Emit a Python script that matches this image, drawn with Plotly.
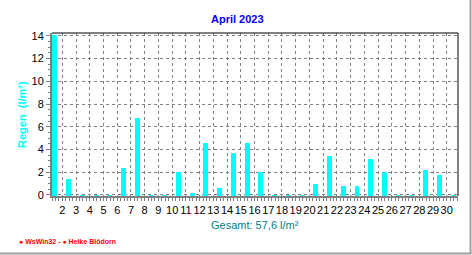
import plotly.graph_objects as go

# ---- data ----
days = list(range(1, 31))
rain = [14.1, 1.4, 0.0, 0.0, 0.0, 2.4, 6.8, 0.0, 0.0, 2.0,
        0.2, 4.6, 0.6, 3.7, 4.6, 2.0, 0.0, 0.0, 0.0, 1.0,
        3.4, 0.8, 0.8, 3.2, 2.0, 0.0, 0.0, 2.2, 1.8, 0.0]
x_tick_vals = list(range(2, 31))
x_tick_text = [str(d) for d in x_tick_vals]
y_tick_vals = list(range(0, 15, 2))
title_text = "<b>April 2023</b>"
y_title = "<b>Regen  (l/m²)</b>"
total_text = "Gesamt: 57,6 l/m²"
footer_text = "<b>● WsWin32 - ● Heike Blödorn</b>"

# ---- layout geometry ----
W, H = 472, 255
L, R, T, B = 52, 14, 33, 59
PW, PH = W - L - R, H - T - B
FONT = "Liberation Sans, Arial, sans-serif"


def px(x, y):
    return (x - L) / PW, (H - B - y) / PH


Y_MIN = -0.09
fig = go.Figure()
fig.add_trace(go.Bar(
    x=[d + 0.5 for d in days],
    y=rain,
    base=Y_MIN,
    width=0.29,
    marker=dict(color="#00FFFF", line=dict(color="#00FFFF", width=1)),
    hoverinfo="skip",
))

grid = dict(showgrid=True, gridcolor="#808080", gridwidth=1, griddash="3px,3px")
clear = "rgba(0,0,0,0)"

fig.update_xaxes(
    range=[1.25, 30.82], tickmode="array", tickvals=x_tick_vals, ticktext=x_tick_text,
    tickangle=0,
    ticks="outside", ticklen=3, tickcolor="#808080", tickwidth=1,
    minor=dict(dtick=0.25, tick0=2, ticks="outside", ticklen=3, tickcolor="#808080",
               showgrid=False, gridcolor=clear),
    showline=True, linecolor="#808080", linewidth=2,
    tickfont=dict(family=FONT, size=11, color="black"),
    zeroline=False, fixedrange=True, **grid,
)
fig.update_yaxes(
    range=[Y_MIN, 14.25], tickmode="array", tickvals=y_tick_vals,
    ticks="outside", ticklen=4, tickcolor="#808080", tickwidth=1,
    minor=dict(dtick=0.5, tick0=0, ticks="outside", ticklen=2, tickcolor="#808080",
               showgrid=False, gridcolor=clear),
    showline=True, linecolor="#808080", linewidth=2,
    tickfont=dict(family=FONT, size=11, color="black"),
    zeroline=False, fixedrange=True, **grid,
)

anns = []
x, y = px(237, 19)
anns.append(dict(x=x, y=y, text=title_text, font=dict(family=FONT, size=11, color="#0000FF")))
x, y = px(22, 114)
anns.append(dict(x=x, y=y, text=y_title, textangle=-90, font=dict(family=FONT, size=11, color="#00FFFF")))
x, y = px(255, 225)
anns.append(dict(x=x, y=y, text=total_text, font=dict(family=FONT, size=11, color="#008080")))
x, y = px(17, 241)
anns.append(dict(x=x, y=y, text=footer_text, xanchor="left", font=dict(family=FONT, size=7, color="#FF0000")))
for a in anns:
    a.update(xref="paper", yref="paper", showarrow=False)
    a.setdefault("xanchor", "center")
    a.setdefault("yanchor", "middle")

shapes = [
    dict(type="line", xref="paper", yref="paper", x0=0, x1=1, y0=1, y1=1, line=dict(color="black", width=1)),
    dict(type="line", xref="paper", yref="paper", x0=1, x1=1, y0=0, y1=1, line=dict(color="black", width=1)),
]
fx0, fy0 = px(470.5, 0)
fx1, fy1 = px(470.5, 254)
shapes.append(dict(type="line", xref="paper", yref="paper", x0=fx0, x1=fx1, y0=fy0, y1=fy1,
                   line=dict(color="#A0A0A0", width=2)))
bx0, by0 = px(0, 253.5)
bx1, by1 = px(471.5, 253.5)
shapes.append(dict(type="line", xref="paper", yref="paper", x0=bx0, x1=bx1, y0=by0, y1=by1,
                   line=dict(color="#A0A0A0", width=2)))

fig.update_layout(
    width=W, height=H, margin=dict(l=L, r=R, t=T, b=B, pad=0),
    paper_bgcolor="white", plot_bgcolor="white",
    showlegend=False, annotations=anns, shapes=shapes, bargap=0,
)

fig.write_html("out.html", config={"displayModeBar": False})
